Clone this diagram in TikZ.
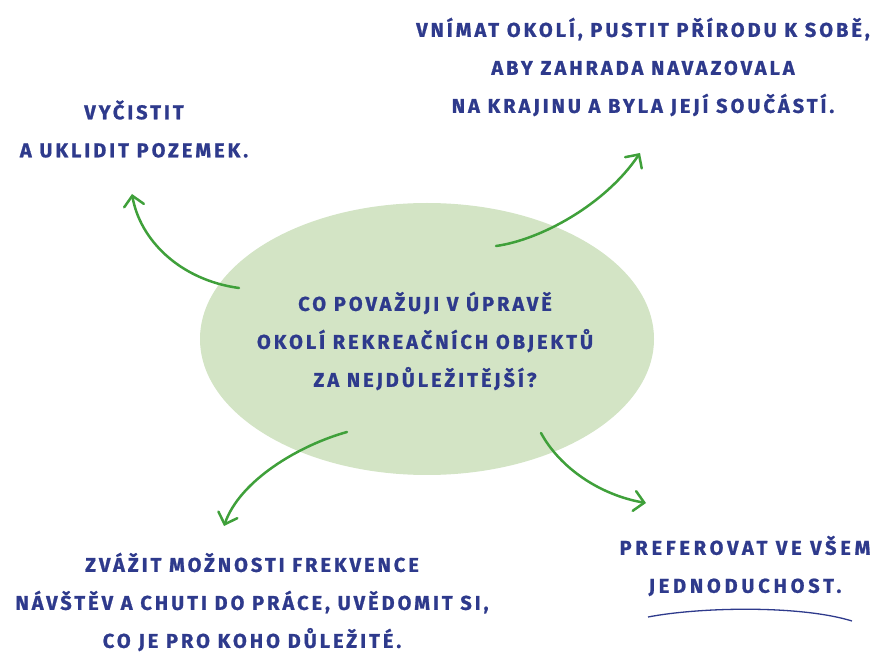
\documentclass[tikz,border=0pt]{standalone}
\usepackage{fontspec}
\setmainfont{Fira Sans}
\usetikzlibrary{arrows.meta,shapes.geometric}
\definecolor{txt}{HTML}{2E3A8C}
\definecolor{arr}{HTML}{3FA03A}
\definecolor{ell}{HTML}{D3E4C5}
\begin{document}
\begin{tikzpicture}[x=1pt,y=-1pt,
  lbl/.style={text=txt, align=center, inner sep=0pt,
    font=\fontsize{20}{38}\selectfont\bfseries\addfontfeature{LetterSpace=15,FakeBold=1}},
  conn/.style={draw=arr, line width=2.5pt, line cap=round,
    -{Straight Barb[length=10pt,width=20pt,line cap=round]}}]
\useasboundingbox (0,0) rectangle (879,652);
\node[ellipse, fill=ell, minimum width=454pt, minimum height=272pt, inner sep=0pt] (c) at (427,339) {};
\node[lbl] (q) at (425,341) {CO POVAŽUJI V ÚPRAVĚ\\OKOLÍ REKREAČNÍCH OBJEKTŮ\\ZA NEJDŮLEŽITĚJŠÍ?};
\node[lbl] (t1) at (643,67) {VNÍMAT OKOLÍ, PUSTIT PŘÍRODU K SOBĚ,\\ABY ZAHRADA NAVAZOVALA\\NA KRAJINU A BYLA JEJÍ SOUČÁSTÍ.};
\node[lbl] (t2) at (134,129) {VYČISTIT\\A UKLIDIT POZEMEK.};
\node[lbl] (t3) at (252,602) {ZVÁŽIT MOŽNOSTI FREKVENCE\\NÁVŠTĚV A CHUTI DO PRÁCE, UVĚDOMIT SI,\\CO JE PRO KOHO DŮLEŽITÉ.};
\node[lbl, font=\fontsize{20}{38}\selectfont\bfseries\addfontfeature{LetterSpace=19,FakeBold=1}] (t4) at (745,566) {PREFEROVAT VE VŠEM\\JEDNODUCHOST.};
\coordinate (s1) at (239,288);
\coordinate (e1) at (132,194);
\coordinate (s2) at (496,246);
\coordinate (e2) at (640,153);
\coordinate (s3) at (347,432);
\coordinate (e3) at (224,526);
\coordinate (s4) at (541,433);
\coordinate (e4) at (646,503);
\coordinate (u1) at (648,617);
\coordinate (u2) at (852,621);
\draw[conn] (s1) .. controls (180,280) and (140,240) .. (e1);
\draw[conn] (s2) .. controls (540,240) and (605,205) .. (e2);
\draw[conn] (s3) .. controls (300,445) and (240,480) .. (e3);
\draw[conn] (s4) .. controls (560,468) and (600,495) .. (e4);
\draw[txt, line width=1.3pt] (u1) .. controls (700,607) and (800,605) .. (u2);
\end{tikzpicture}
\end{document}
